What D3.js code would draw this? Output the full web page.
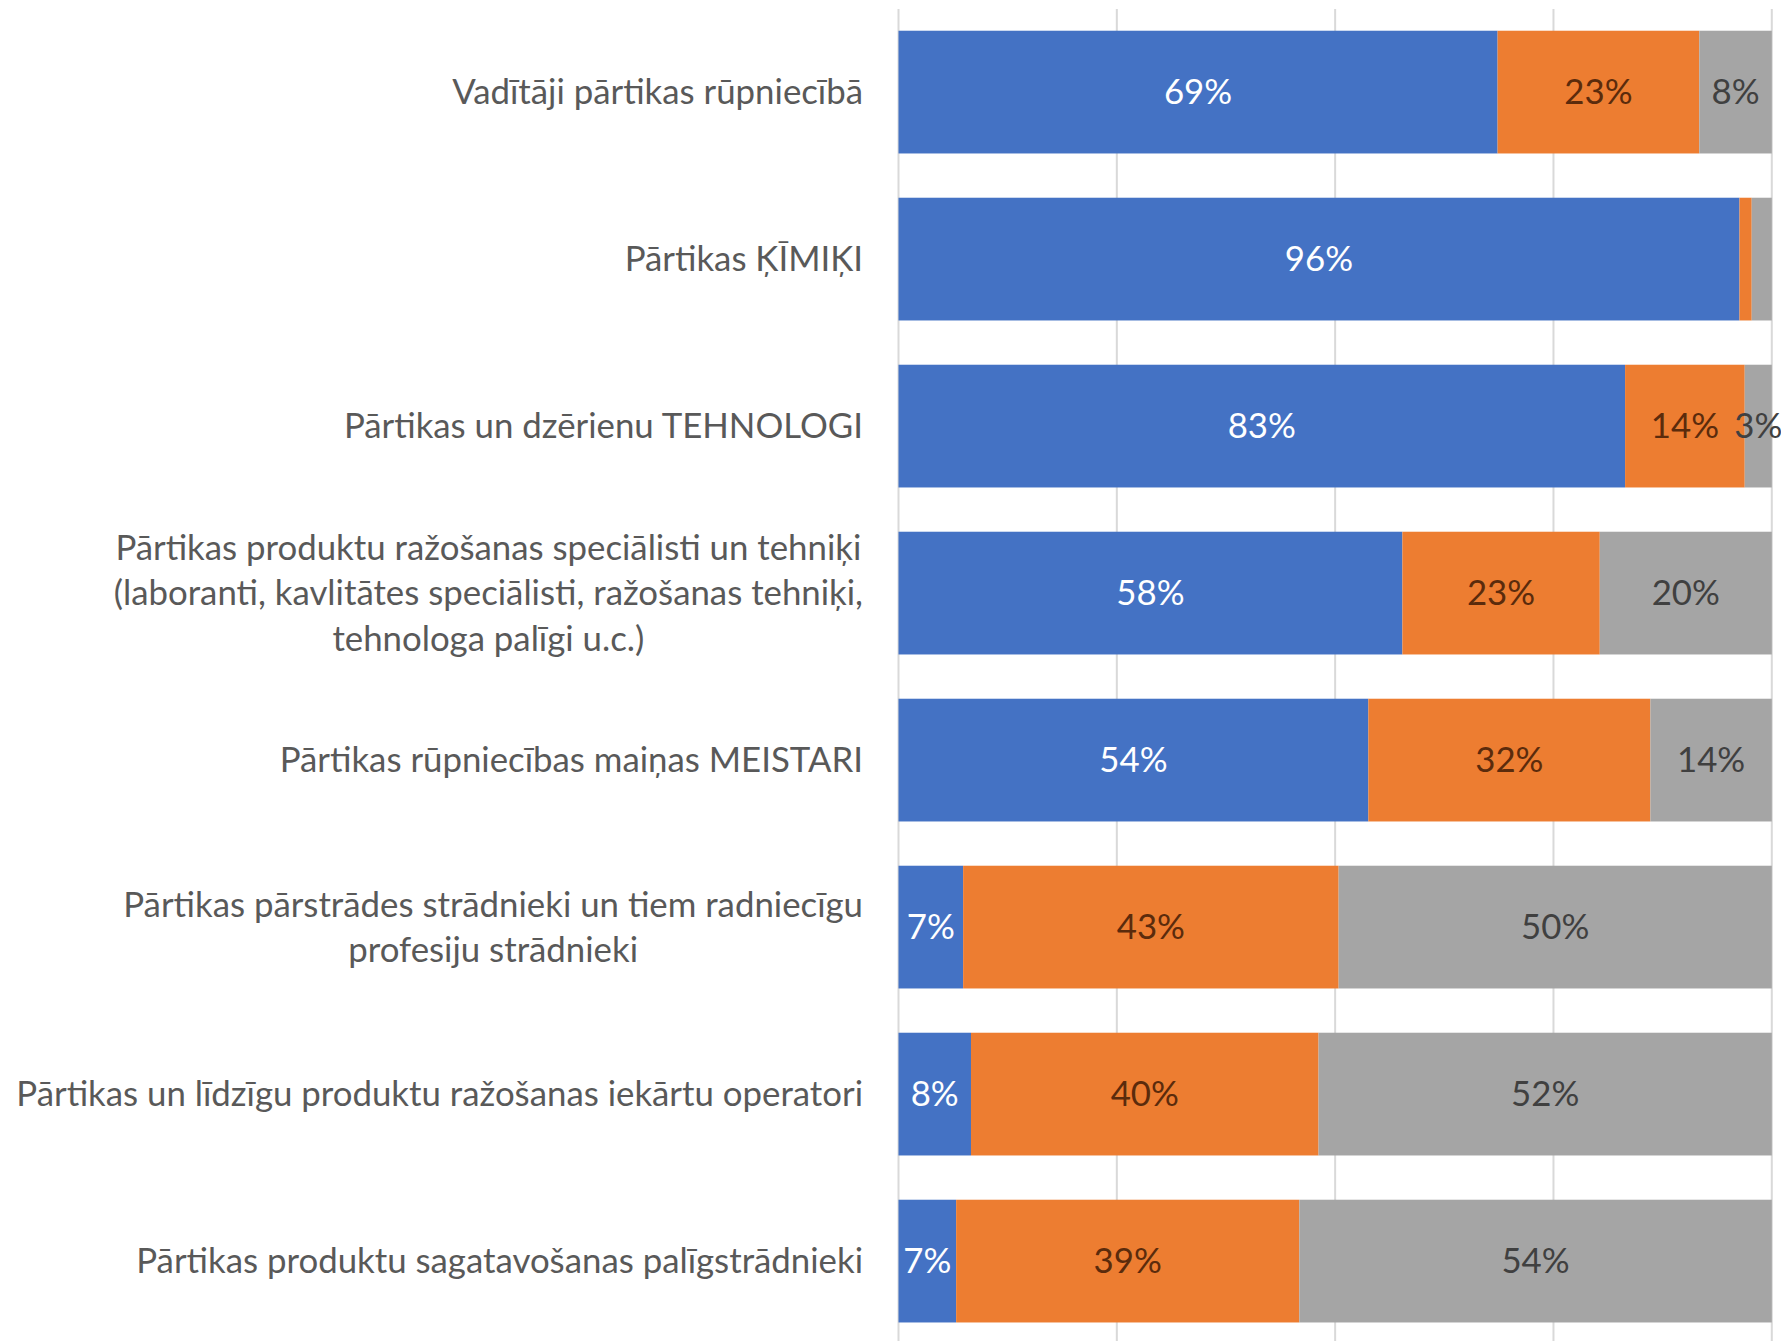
<!DOCTYPE html>
<html>
<head>
<meta charset="utf-8">
<script src="https://cdn.jsdelivr.net/npm/d3@7"></script>
<style>
  html, body { margin: 0; padding: 0; background: #ffffff; }
  svg { display: block; }
  text { font-family: Lato, "Open Sans", "Noto Sans", sans-serif; }
</style>
</head>
<body>
<svg id="chart" width="1781" height="1341"></svg>
<script>
// Occupation groups (each entry is a list of wrapped lines)
const categories = [
  ["Vadītāji pārtikas rūpniecībā"],
  ["Pārtikas ĶĪMIĶI"],
  ["Pārtikas un dzērienu TEHNOLOGI"],
  ["Pārtikas produktu ražošanas speciālisti un tehniķi",
   "(laboranti, kavlitātes speciālisti, ražošanas tehniķi,",
   "tehnologa palīgi u.c.)"],
  ["Pārtikas rūpniecības maiņas MEISTARI"],
  ["Pārtikas pārstrādes strādnieki un tiem radniecīgu",
   "profesiju strādnieki"],
  ["Pārtikas un līdzīgu produktu ražošanas iekārtu operatori"],
  ["Pārtikas produktu sagatavošanas palīgstrādnieki"]
];

// Shares (%) of the three response groups, one value per occupation
const seriesA = [68.6, 96.3, 83.2, 57.7, 53.8, 7.4, 8.3, 6.6];
const seriesB = [23.1, 1.4, 13.7, 22.6, 32.3, 43.0, 39.8, 39.3];
const seriesC = [8.3, 2.3, 3.1, 19.7, 13.9, 49.6, 51.9, 54.1];

const xTicks = [0, 25, 50, 75, 100];

const seriesColors = ["#4472C4", "#ED7D31", "#A5A5A5"];
const labelColors = ["#ffffff", "#5b2b0c", "#404040"];

const svg = d3.select("#chart");

const x = d3.scaleLinear().domain([0, 100]).range([898.5, 1771.8]);
const y = d3.scaleBand()
  .domain(d3.range(categories.length))
  .range([8.6, 1344.6])
  .paddingInner(0.265)
  .paddingOuter(0.1325);

// vertical gridlines
svg.append("g")
  .selectAll("line")
  .data(xTicks)
  .join("line")
  .attr("x1", d => x(d)).attr("x2", d => x(d))
  .attr("y1", 9).attr("y2", 1341)
  .attr("stroke", "#d9d9d9")
  .attr("stroke-width", 2);

// stack the three series
const rows = categories.map((c, i) => ({ i, a: seriesA[i], b: seriesB[i], c: seriesC[i] }));
const stack = d3.stack().keys(["a", "b", "c"]);
const layers = stack(rows);

const segs = svg.append("g");
layers.forEach((layer, k) => {
  segs.append("g")
    .attr("fill", seriesColors[k])
    .selectAll("rect")
    .data(layer)
    .join("rect")
    .attr("x", d => x(d[0]))
    .attr("width", d => x(d[1]) - x(d[0]))
    .attr("y", d => y(d.data.i))
    .attr("height", y.bandwidth());
});

// category labels, fitted so the longest line spans the label column
const labelRight = 863;
const baseSize = 36;
const catG = svg.append("g").attr("fill", "#595959");
const probe = catG.append("text").attr("font-size", baseSize)
  .text("Pārtikas un līdzīgu produktu ražošanas iekārtu operatori");
const fontSize = baseSize * 847 / probe.node().getComputedTextLength();
probe.remove();

const lineGap = 45.5;
categories.forEach((lines, i) => {
  const cy = y(i) + y.bandwidth() / 2;
  const t = catG.append("text").attr("font-size", fontSize);
  if (lines.length === 1) {
    t.attr("x", labelRight).attr("y", cy).attr("dy", "0.35em")
      .attr("text-anchor", "end").text(lines[0]);
  } else {
    const spans = lines.map((s, j) => t.append("tspan")
      .attr("y", cy + (j - (lines.length - 1) / 2) * lineGap)
      .attr("dy", "0.35em").text(s));
    const w = d3.max(spans, s => s.node().getComputedTextLength());
    t.attr("text-anchor", "middle");
    spans.forEach(s => s.attr("x", labelRight - w / 2));
  }
});

// data labels, centred in each segment
const lblG = svg.append("g").attr("text-anchor", "middle").attr("font-size", fontSize);
layers.forEach((layer, k) => {
  lblG.append("g")
    .attr("fill", labelColors[k])
    .selectAll("text")
    .data(layer.filter(d => d[1] - d[0] >= 3))
    .join("text")
    .attr("x", d => x((d[0] + d[1]) / 2))
    .attr("y", d => y(d.data.i) + y.bandwidth() / 2)
    .attr("dy", "0.35em")
    .text(d => Math.round(d[1] - d[0]) + "%");
});
</script>
</body>
</html>
